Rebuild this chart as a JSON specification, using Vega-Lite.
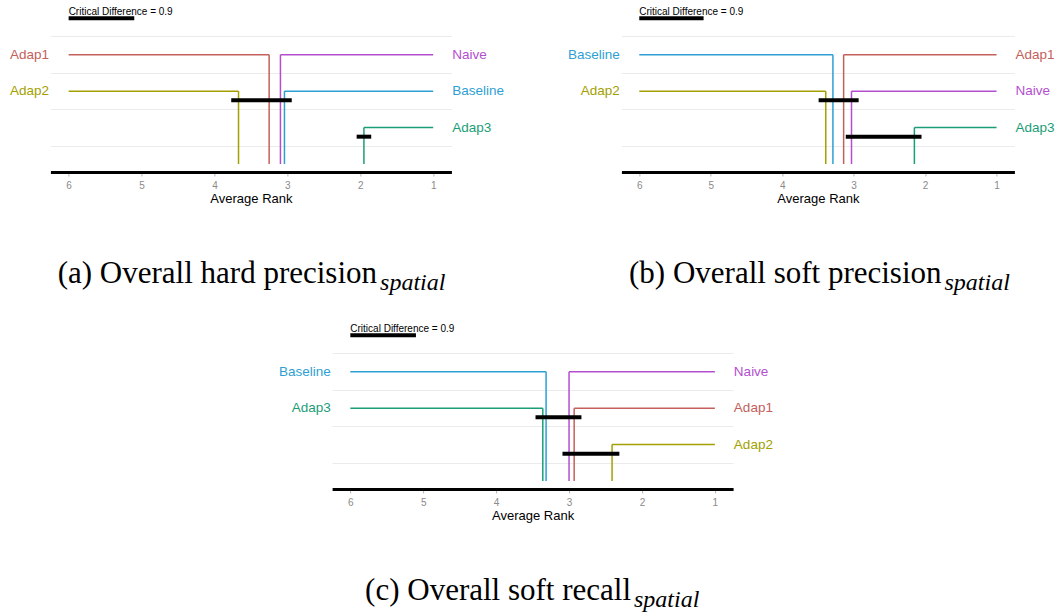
{
  "$schema": "https://vega.github.io/schema/vega-lite/v6.json",
  "padding": {"left": 10, "top": 7, "right": 0, "bottom": 0},
  "background": "white",
  "config": {
    "view": {"stroke": null},
    "font": "Liberation Sans"
  },
  "datasets": {
    "methods": [
      {"panel": "a", "method": "Adap1", "rank": 3.25, "row": 1, "side": "left"},
      {"panel": "a", "method": "Adap2", "rank": 3.67, "row": 2, "side": "left"},
      {"panel": "a", "method": "Naive", "rank": 3.095, "row": 1, "side": "right"},
      {"panel": "a", "method": "Baseline", "rank": 3.04, "row": 2, "side": "right"},
      {"panel": "a", "method": "Adap3", "rank": 1.95, "row": 3, "side": "right"},
      {"panel": "b", "method": "Baseline", "rank": 3.29, "row": 1, "side": "left"},
      {"panel": "b", "method": "Adap2", "rank": 3.39, "row": 2, "side": "left"},
      {"panel": "b", "method": "Adap1", "rank": 3.14, "row": 1, "side": "right"},
      {"panel": "b", "method": "Naive", "rank": 3.03, "row": 2, "side": "right"},
      {"panel": "b", "method": "Adap3", "rank": 2.15, "row": 3, "side": "right"},
      {"panel": "c", "method": "Baseline", "rank": 3.315, "row": 1, "side": "left"},
      {"panel": "c", "method": "Adap3", "rank": 3.36, "row": 2, "side": "left"},
      {"panel": "c", "method": "Naive", "rank": 3.0, "row": 1, "side": "right"},
      {"panel": "c", "method": "Adap1", "rank": 2.93, "row": 2, "side": "right"},
      {"panel": "c", "method": "Adap2", "rank": 2.41, "row": 3, "side": "right"}
    ],
    "cliques": [
      {"panel": "a", "from": 3.77, "to": 2.94, "row": 2.25},
      {"panel": "a", "from": 2.05, "to": 1.85, "row": 3.25},
      {"panel": "b", "from": 3.49, "to": 2.93, "row": 2.25},
      {"panel": "b", "from": 3.11, "to": 2.05, "row": 3.25},
      {"panel": "c", "from": 3.46, "to": 2.83, "row": 2.25},
      {"panel": "c", "from": 3.09, "to": 2.31, "row": 3.25}
    ],
    "cd": [
      {"panel": "a", "label": "Critical Difference = 0.9", "start": 6, "end": 5.1},
      {"panel": "b", "label": "Critical Difference = 0.9", "start": 6, "end": 5.1},
      {"panel": "c", "label": "Critical Difference = 0.9", "start": 6, "end": 5.1}
    ],
    "captions": [
      {"panel": "a", "main": "(a) Overall hard precision", "sub": "spatial"},
      {"panel": "b", "main": "(b) Overall soft precision", "sub": "spatial"},
      {"panel": "c", "main": "(c) Overall soft recall", "sub": "spatial"}
    ]
  },
  "spacing": 28,
  "center": true,
  "vconcat": [
    {
      "hconcat": [
        {
          "width": 401, "height": 161,
          "layer": [
            {"data": {"name": "methods"}, "transform": [{"filter": "datum.panel === 'a' && datum.side === 'left'"}],
             "mark": {"type": "rule", "strokeWidth": 1.5},
             "encoding": {
               "x": {"field": "rank", "type": "quantitative", "scale": {"domain": [0.75, 6.25], "reverse": true, "nice": false, "zero": false}, "title": "Average Rank",
                     "axis": {"values": [1, 1.5, 2, 2.5, 3, 3.5, 4, 4.5, 5, 5.5, 6], "format": "d", "labelExpr": "datum.value % 1 === 0 ? datum.label : ''", "grid": true, "gridColor": "#ebebeb", "gridWidth": 1, "gridOpacity": {"condition": {"test": "datum.value % 1 !== 0", "value": 1}, "value": 0}, "tickOpacity": {"condition": {"test": "datum.value % 1 === 0", "value": 1}, "value": 0}, "domainColor": "black", "domainWidth": 3, "tickColor": "#b5b5b5", "tickSize": 4, "tickWidth": 1, "labelColor": "#8a8a8a", "labelFontSize": 10, "labelPadding": 4, "labelFlush": false, "titleFontSize": 13, "titleFontWeight": "normal", "titleColor": "black", "titlePadding": 2}},
               "x2": {"datum": 6},
               "y": {"field": "row", "type": "quantitative", "scale": {"domain": [-0.2, 4.22], "reverse": true, "nice": false, "zero": false},
                     "axis": {"values": [0.5, 1.5, 2.5, 3.5], "grid": true, "gridColor": "#ebebeb", "gridWidth": 1, "labels": false, "ticks": false, "domain": false, "title": null}},
               "color": {"field": "method", "type": "nominal", "legend": null, "scale": {"domain": ["Adap1", "Adap2", "Adap3", "Baseline", "Naive"], "range": ["#c4605b", "#a3a000", "#1b9e77", "#2e9fd3", "#b34fcf"]}}
             }},
            {"data": {"name": "methods"}, "transform": [{"filter": "datum.panel === 'a' && datum.side === 'right'"}],
             "mark": {"type": "rule", "strokeWidth": 1.5},
             "encoding": {"x": {"field": "rank", "type": "quantitative"}, "x2": {"datum": 1}, "y": {"field": "row", "type": "quantitative"}, "color": {"field": "method", "type": "nominal"}}},
            {"data": {"name": "methods"}, "transform": [{"filter": "datum.panel === 'a'"}],
             "mark": {"type": "rule", "strokeWidth": 1.5},
             "encoding": {"x": {"field": "rank", "type": "quantitative"}, "y": {"field": "row", "type": "quantitative"}, "y2": {"datum": 4}, "color": {"field": "method", "type": "nominal"}}},
            {"data": {"name": "methods"}, "transform": [{"filter": "datum.panel === 'a' && datum.side === 'left'"}],
             "mark": {"type": "text", "align": "right", "baseline": "middle", "dx": -19.5, "fontSize": 13.5},
             "encoding": {"x": {"datum": 6}, "y": {"field": "row", "type": "quantitative"}, "text": {"field": "method"}, "color": {"field": "method", "type": "nominal"}}},
            {"data": {"name": "methods"}, "transform": [{"filter": "datum.panel === 'a' && datum.side === 'right'"}],
             "mark": {"type": "text", "align": "left", "baseline": "middle", "dx": 19, "fontSize": 13.5},
             "encoding": {"x": {"datum": 1}, "y": {"field": "row", "type": "quantitative"}, "text": {"field": "method"}, "color": {"field": "method", "type": "nominal"}}},
            {"data": {"name": "cliques"}, "transform": [{"filter": "datum.panel === 'a'"}],
             "mark": {"type": "rule", "strokeWidth": 4, "color": "black"},
             "encoding": {"x": {"field": "from", "type": "quantitative"}, "x2": {"field": "to"}, "y": {"field": "row", "type": "quantitative"}}},
            {"data": {"name": "cd"}, "transform": [{"filter": "datum.panel === 'a'"}],
             "mark": {"type": "rule", "strokeWidth": 4, "color": "black"},
             "encoding": {"x": {"field": "start", "type": "quantitative"}, "x2": {"field": "end"}, "y": {"datum": 0}}},
            {"data": {"name": "cd"}, "transform": [{"filter": "datum.panel === 'a'"}],
             "mark": {"type": "text", "align": "left", "baseline": "alphabetic", "dy": -3, "fontSize": 10, "color": "black"},
             "encoding": {"x": {"field": "start", "type": "quantitative"}, "y": {"datum": 0}, "text": {"field": "label"}}},
            {"data": {"name": "captions"}, "transform": [{"filter": "datum.panel === 'a'"}],
             "mark": {"type": "text", "align": "right", "baseline": "alphabetic", "font": "Liberation Serif", "fontSize": 31, "color": "black"},
             "encoding": {"x": {"datum": 1.77}, "y": {"datum": 7.27}, "text": {"field": "main"}}},
            {"data": {"name": "captions"}, "transform": [{"filter": "datum.panel === 'a'"}],
             "mark": {"type": "text", "align": "left", "baseline": "alphabetic", "font": "Liberation Serif", "fontStyle": "italic", "fontSize": 24, "dx": 3, "dy": 7, "color": "black"},
             "encoding": {"x": {"datum": 1.77}, "y": {"datum": 7.27}, "text": {"field": "sub"}}}
          ]
        },
        {
          "width": 393, "height": 161,
          "layer": [
            {"data": {"name": "methods"}, "transform": [{"filter": "datum.panel === 'b' && datum.side === 'left'"}],
             "mark": {"type": "rule", "strokeWidth": 1.5},
             "encoding": {
               "x": {"field": "rank", "type": "quantitative", "scale": {"domain": [0.75, 6.25], "reverse": true, "nice": false, "zero": false}, "title": "Average Rank",
                     "axis": {"values": [1, 1.5, 2, 2.5, 3, 3.5, 4, 4.5, 5, 5.5, 6], "format": "d", "labelExpr": "datum.value % 1 === 0 ? datum.label : ''", "grid": true, "gridColor": "#ebebeb", "gridWidth": 1, "gridOpacity": {"condition": {"test": "datum.value % 1 !== 0", "value": 1}, "value": 0}, "tickOpacity": {"condition": {"test": "datum.value % 1 === 0", "value": 1}, "value": 0}, "domainColor": "black", "domainWidth": 3, "tickColor": "#b5b5b5", "tickSize": 4, "tickWidth": 1, "labelColor": "#8a8a8a", "labelFontSize": 10, "labelPadding": 4, "labelFlush": false, "titleFontSize": 13, "titleFontWeight": "normal", "titleColor": "black", "titlePadding": 2}},
               "x2": {"datum": 6},
               "y": {"field": "row", "type": "quantitative", "scale": {"domain": [-0.2, 4.22], "reverse": true, "nice": false, "zero": false},
                     "axis": {"values": [0.5, 1.5, 2.5, 3.5], "grid": true, "gridColor": "#ebebeb", "gridWidth": 1, "labels": false, "ticks": false, "domain": false, "title": null}},
               "color": {"field": "method", "type": "nominal", "legend": null, "scale": {"domain": ["Adap1", "Adap2", "Adap3", "Baseline", "Naive"], "range": ["#c4605b", "#a3a000", "#1b9e77", "#2e9fd3", "#b34fcf"]}}
             }},
            {"data": {"name": "methods"}, "transform": [{"filter": "datum.panel === 'b' && datum.side === 'right'"}],
             "mark": {"type": "rule", "strokeWidth": 1.5},
             "encoding": {"x": {"field": "rank", "type": "quantitative"}, "x2": {"datum": 1}, "y": {"field": "row", "type": "quantitative"}, "color": {"field": "method", "type": "nominal"}}},
            {"data": {"name": "methods"}, "transform": [{"filter": "datum.panel === 'b'"}],
             "mark": {"type": "rule", "strokeWidth": 1.5},
             "encoding": {"x": {"field": "rank", "type": "quantitative"}, "y": {"field": "row", "type": "quantitative"}, "y2": {"datum": 4}, "color": {"field": "method", "type": "nominal"}}},
            {"data": {"name": "methods"}, "transform": [{"filter": "datum.panel === 'b' && datum.side === 'left'"}],
             "mark": {"type": "text", "align": "right", "baseline": "middle", "dx": -19.5, "fontSize": 13.5},
             "encoding": {"x": {"datum": 6}, "y": {"field": "row", "type": "quantitative"}, "text": {"field": "method"}, "color": {"field": "method", "type": "nominal"}}},
            {"data": {"name": "methods"}, "transform": [{"filter": "datum.panel === 'b' && datum.side === 'right'"}],
             "mark": {"type": "text", "align": "left", "baseline": "middle", "dx": 19, "fontSize": 13.5},
             "encoding": {"x": {"datum": 1}, "y": {"field": "row", "type": "quantitative"}, "text": {"field": "method"}, "color": {"field": "method", "type": "nominal"}}},
            {"data": {"name": "cliques"}, "transform": [{"filter": "datum.panel === 'b'"}],
             "mark": {"type": "rule", "strokeWidth": 4, "color": "black"},
             "encoding": {"x": {"field": "from", "type": "quantitative"}, "x2": {"field": "to"}, "y": {"field": "row", "type": "quantitative"}}},
            {"data": {"name": "cd"}, "transform": [{"filter": "datum.panel === 'b'"}],
             "mark": {"type": "rule", "strokeWidth": 4, "color": "black"},
             "encoding": {"x": {"field": "start", "type": "quantitative"}, "x2": {"field": "end"}, "y": {"datum": 0}}},
            {"data": {"name": "cd"}, "transform": [{"filter": "datum.panel === 'b'"}],
             "mark": {"type": "text", "align": "left", "baseline": "alphabetic", "dy": -3, "fontSize": 10, "color": "black"},
             "encoding": {"x": {"field": "start", "type": "quantitative"}, "y": {"datum": 0}, "text": {"field": "label"}}},
            {"data": {"name": "captions"}, "transform": [{"filter": "datum.panel === 'b'"}],
             "mark": {"type": "text", "align": "right", "baseline": "alphabetic", "font": "Liberation Serif", "fontSize": 31, "color": "black"},
             "encoding": {"x": {"datum": 1.77}, "y": {"datum": 7.27}, "text": {"field": "main"}}},
            {"data": {"name": "captions"}, "transform": [{"filter": "datum.panel === 'b'"}],
             "mark": {"type": "text", "align": "left", "baseline": "alphabetic", "font": "Liberation Serif", "fontStyle": "italic", "fontSize": 24, "dx": 3, "dy": 7, "color": "black"},
             "encoding": {"x": {"datum": 1.77}, "y": {"datum": 7.27}, "text": {"field": "sub"}}}
          ]
        }
      ],
      "spacing": 63
    },
    {
      "width": 401, "height": 161,
      "layer": [
        {"data": {"name": "methods"}, "transform": [{"filter": "datum.panel === 'c' && datum.side === 'left'"}],
         "mark": {"type": "rule", "strokeWidth": 1.5},
         "encoding": {
           "x": {"field": "rank", "type": "quantitative", "scale": {"domain": [0.75, 6.25], "reverse": true, "nice": false, "zero": false}, "title": "Average Rank",
                 "axis": {"values": [1, 1.5, 2, 2.5, 3, 3.5, 4, 4.5, 5, 5.5, 6], "format": "d", "labelExpr": "datum.value % 1 === 0 ? datum.label : ''", "grid": true, "gridColor": "#ebebeb", "gridWidth": 1, "gridOpacity": {"condition": {"test": "datum.value % 1 !== 0", "value": 1}, "value": 0}, "tickOpacity": {"condition": {"test": "datum.value % 1 === 0", "value": 1}, "value": 0}, "domainColor": "black", "domainWidth": 3, "tickColor": "#b5b5b5", "tickSize": 4, "tickWidth": 1, "labelColor": "#8a8a8a", "labelFontSize": 10, "labelPadding": 4, "labelFlush": false, "titleFontSize": 13, "titleFontWeight": "normal", "titleColor": "black", "titlePadding": 2}},
           "x2": {"datum": 6},
           "y": {"field": "row", "type": "quantitative", "scale": {"domain": [-0.2, 4.22], "reverse": true, "nice": false, "zero": false},
                 "axis": {"values": [0.5, 1.5, 2.5, 3.5], "grid": true, "gridColor": "#ebebeb", "gridWidth": 1, "labels": false, "ticks": false, "domain": false, "title": null}},
           "color": {"field": "method", "type": "nominal", "legend": null, "scale": {"domain": ["Adap1", "Adap2", "Adap3", "Baseline", "Naive"], "range": ["#c4605b", "#a3a000", "#1b9e77", "#2e9fd3", "#b34fcf"]}}
         }},
        {"data": {"name": "methods"}, "transform": [{"filter": "datum.panel === 'c' && datum.side === 'right'"}],
         "mark": {"type": "rule", "strokeWidth": 1.5},
         "encoding": {"x": {"field": "rank", "type": "quantitative"}, "x2": {"datum": 1}, "y": {"field": "row", "type": "quantitative"}, "color": {"field": "method", "type": "nominal"}}},
        {"data": {"name": "methods"}, "transform": [{"filter": "datum.panel === 'c'"}],
         "mark": {"type": "rule", "strokeWidth": 1.5},
         "encoding": {"x": {"field": "rank", "type": "quantitative"}, "y": {"field": "row", "type": "quantitative"}, "y2": {"datum": 4}, "color": {"field": "method", "type": "nominal"}}},
        {"data": {"name": "methods"}, "transform": [{"filter": "datum.panel === 'c' && datum.side === 'left'"}],
         "mark": {"type": "text", "align": "right", "baseline": "middle", "dx": -19.5, "fontSize": 13.5},
         "encoding": {"x": {"datum": 6}, "y": {"field": "row", "type": "quantitative"}, "text": {"field": "method"}, "color": {"field": "method", "type": "nominal"}}},
        {"data": {"name": "methods"}, "transform": [{"filter": "datum.panel === 'c' && datum.side === 'right'"}],
         "mark": {"type": "text", "align": "left", "baseline": "middle", "dx": 19, "fontSize": 13.5},
         "encoding": {"x": {"datum": 1}, "y": {"field": "row", "type": "quantitative"}, "text": {"field": "method"}, "color": {"field": "method", "type": "nominal"}}},
        {"data": {"name": "cliques"}, "transform": [{"filter": "datum.panel === 'c'"}],
         "mark": {"type": "rule", "strokeWidth": 4, "color": "black"},
         "encoding": {"x": {"field": "from", "type": "quantitative"}, "x2": {"field": "to"}, "y": {"field": "row", "type": "quantitative"}}},
        {"data": {"name": "cd"}, "transform": [{"filter": "datum.panel === 'c'"}],
         "mark": {"type": "rule", "strokeWidth": 4, "color": "black"},
         "encoding": {"x": {"field": "start", "type": "quantitative"}, "x2": {"field": "end"}, "y": {"datum": 0}}},
        {"data": {"name": "cd"}, "transform": [{"filter": "datum.panel === 'c'"}],
         "mark": {"type": "text", "align": "left", "baseline": "alphabetic", "dy": -3, "fontSize": 10, "color": "black"},
         "encoding": {"x": {"field": "start", "type": "quantitative"}, "y": {"datum": 0}, "text": {"field": "label"}}},
        {"data": {"name": "captions"}, "transform": [{"filter": "datum.panel === 'c'"}],
         "mark": {"type": "text", "align": "right", "baseline": "alphabetic", "font": "Liberation Serif", "fontSize": 31, "color": "black"},
         "encoding": {"x": {"datum": 2.15}, "y": {"datum": 7.27}, "text": {"field": "main"}}},
        {"data": {"name": "captions"}, "transform": [{"filter": "datum.panel === 'c'"}],
         "mark": {"type": "text", "align": "left", "baseline": "alphabetic", "font": "Liberation Serif", "fontStyle": "italic", "fontSize": 24, "dx": 3, "dy": 7, "color": "black"},
         "encoding": {"x": {"datum": 2.15}, "y": {"datum": 7.27}, "text": {"field": "sub"}}}
      ]
    }
  ]
}
